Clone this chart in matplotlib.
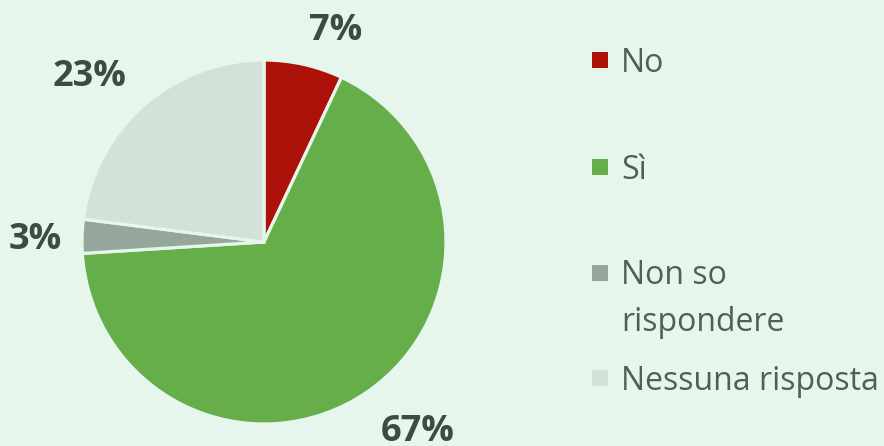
import numpy as np
import matplotlib.pyplot as plt
from matplotlib.patches import Rectangle

# Data
categories = ["No", "Sì", "Non so\nrispondere", "Nessuna risposta"]
shares = [7, 67, 3, 23]
colors = ["#AD120A", "#65AE4A", "#95A69C", "#D3E1D9"]

BG = "#E6F6ED"
LABEL_COLOR = "#3A4D42"
LEGEND_COLOR = "#4D5F57"

plt.rcParams["font.family"] = ["Open Sans", "DejaVu Sans"]

fig = plt.figure(figsize=(8.84, 4.46), dpi=100, facecolor=BG)
ax = fig.add_axes([82 / 884, 22 / 446, 364 / 884, 364 / 446])
ax.set_facecolor(BG)

wedges, _ = ax.pie(shares, colors=colors, startangle=90, counterclock=False,
                   radius=1.0,
                   wedgeprops=dict(edgecolor=BG, linewidth=2.3))
ax.set_xlim(-1, 1)
ax.set_ylim(-1, 1)
ax.set_aspect("equal")
ax.axis("off")

# Percentage labels just outside each wedge
for w, v in zip(wedges, shares):
    mid = np.deg2rad((w.theta1 + w.theta2) / 2)
    c, s = np.cos(mid), np.sin(mid)
    dist = 1.14 if abs(s) > 0.3 else 1.11
    x, y = dist * c, dist * s
    ha = "left" if c > 0 else "right"
    va = "baseline" if s > 0.3 else ("top" if s < -0.3 else "center_baseline")
    ax.text(x, y, f"{v}%", ha=ha, va=va, fontsize=26, fontweight="bold",
            color=LABEL_COLOR, clip_on=False)

# Legend drawn by hand to keep the uneven spacing
legend_y = [60, 167, 273, 378]
for cat, col, ypx in zip(categories, colors, legend_y):
    yf = 1 - ypx / 446
    fig.patches.append(Rectangle((592 / 884, yf - 8 / 446), 16 / 884, 16 / 446,
                                 transform=fig.transFigure, facecolor=col,
                                 edgecolor="none"))
    if "\n" in cat:
        fig.text(621 / 884, yf + 14 / 446, cat, ha="left", va="top",
                 fontsize=23, color=LEGEND_COLOR, linespacing=1.55,
                 transform=fig.transFigure)
    else:
        fig.text(621 / 884, yf - 3 / 446, cat, ha="left", va="center",
                 fontsize=23, color=LEGEND_COLOR, transform=fig.transFigure)

fig.savefig("out.png", dpi=100, facecolor=BG)
